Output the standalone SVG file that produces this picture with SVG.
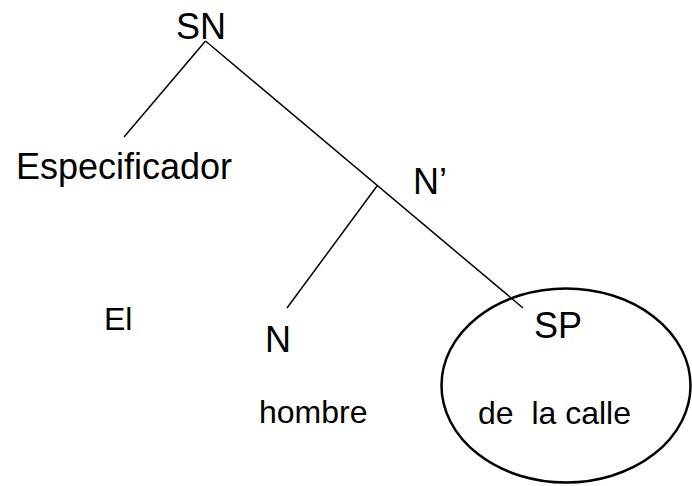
<svg xmlns="http://www.w3.org/2000/svg" width="692" height="486" viewBox="0 0 692 486">
<style>
text{font-family:"Liberation Sans",Arial,sans-serif;fill:#000;white-space:pre}
.l{font-size:36px}
.w{font-size:32px}
.e{stroke:#000;stroke-width:1.5;fill:none}
</style>
<rect width="692" height="486" fill="#fff"/>
<g id="connectors">
<line class="e" x1="205.5" y1="41" x2="124" y2="137"/>
<line class="e" x1="205.5" y1="41" x2="523" y2="308"/>
<line class="e" x1="377" y1="186" x2="287" y2="308"/>
</g>
<g id="SN"><text class="l" x="176" y="39">SN</text></g>
<g id="Especificador"><text class="l" x="16" y="179">Especificador</text></g>
<g id="Nbar"><text class="l" x="413" y="194">N’</text></g>
<g id="El"><text class="w" x="104" y="330">El</text></g>
<g id="N"><text class="l" x="265" y="352">N</text></g>
<g id="hombre"><text class="w" x="259" y="423">hombre</text></g>
<g id="SP">
<ellipse cx="566" cy="385.5" rx="124.5" ry="97" fill="none" stroke="#000" stroke-width="2.5"/>
<text class="l" x="534" y="338">SP</text>
<text class="w" x="478" y="424" xml:space="preserve">de  la calle</text>
</g>
</svg>
